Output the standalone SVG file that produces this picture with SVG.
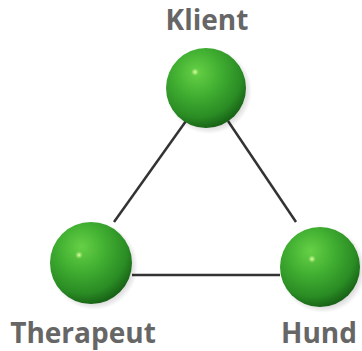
<svg xmlns="http://www.w3.org/2000/svg" width="362" height="351" viewBox="0 0 362 351">
<defs>
<radialGradient id="ball" cx="0.4" cy="0.33" r="0.7" fx="0.38" fy="0.3">
<stop offset="0" stop-color="#66d046"/>
<stop offset="0.4" stop-color="#42b032"/>
<stop offset="0.78" stop-color="#2a8c24"/>
<stop offset="1" stop-color="#165e14"/>
</radialGradient>
<radialGradient id="spot" cx="0.5" cy="0.5" r="0.5">
<stop offset="0" stop-color="#e8ffb0" stop-opacity="1"/>
<stop offset="0.5" stop-color="#b8f080" stop-opacity="0.6"/>
<stop offset="1" stop-color="#8de060" stop-opacity="0"/>
</radialGradient>
<radialGradient id="shadow" cx="0.5" cy="0.5" r="0.5">
<stop offset="0.75" stop-color="#000" stop-opacity="0.22"/>
<stop offset="1" stop-color="#000" stop-opacity="0"/>
</radialGradient>
</defs>
<style>
.lbl{font-family:"Open Sans","Liberation Sans",sans-serif;font-weight:bold;font-size:28px;fill:#666;text-anchor:middle}
.edge{stroke:#333;stroke-width:2.5;fill:none}
</style>
<rect width="362" height="351" fill="#fff"/>
<g id="connectors">
<line class="edge" x1="186" y1="121" x2="114" y2="222"/>
<line class="edge" x1="228" y1="121" x2="296" y2="222"/>
<line class="edge" x1="132" y1="275" x2="280" y2="275"/>
</g>
<g id="klient">
<circle cx="209" cy="91" r="43" fill="url(#shadow)"/>
<circle cx="206" cy="88" r="40" fill="url(#ball)"/>
<circle cx="195" cy="72" r="4" fill="url(#spot)"/>
<text class="lbl" x="207" y="30">Klient</text>
</g>
<g id="therapeut">
<circle cx="94" cy="266" r="44" fill="url(#shadow)"/>
<circle cx="91" cy="263" r="41" fill="url(#ball)"/>
<circle cx="79" cy="255" r="4" fill="url(#spot)"/>
<text class="lbl" x="83" y="343">Therapeut</text>
</g>
<g id="hund">
<circle cx="323" cy="270" r="43" fill="url(#shadow)"/>
<circle cx="320" cy="267" r="40" fill="url(#ball)"/>
<circle cx="312" cy="259" r="4" fill="url(#spot)"/>
<text class="lbl" x="319" y="343">Hund</text>
</g>
</svg>
